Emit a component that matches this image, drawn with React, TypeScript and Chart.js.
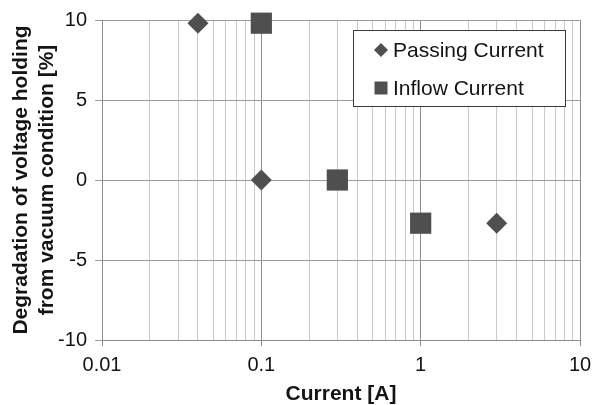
import React, { useEffect, useRef } from "react";
import { Chart, registerables } from "chart.js";

Chart.register(...registerables);

// ---- data ----
const seriesNames = ["Passing Current", "Inflow Current"];
const passingX = [0.04, 0.1, 3];
const passingY = [9.8, 0, -2.7];
const inflowX = [0.1, 0.3, 1];
const inflowY = [9.8, 0, -2.7];

const xDecades = [0.01, 0.1, 1, 10];
const xDecadeLabels = ["0.01", "0.1", "1", "10"];
const xMinorMultipliers = [2, 3, 4, 5, 6, 7, 8, 9];
const yTicks = [-10, -5, 0, 5, 10];
const yTickLabels = ["-10", "-5", "0", "5", "10"];

const xTitle = "Current [A]";
const yTitle = ["Degradation of voltage holding", "from vacuum condition [%]"];

// ---- styles ----
const FONT = "'Liberation Sans', Arial, sans-serif";
const TEXT = "#141414";
const MARK = "#4f4f4f";
const GRID_MAJOR = "#8e8e8e";
const GRID_MINOR = "#c9c9c9";
const GRID_Y = "#9c9c9c";

const xTickValues: number[] = (() => {
  const out: number[] = [];
  for (let i = 0; i < xDecades.length; i++) {
    out.push(xDecades[i]);
    if (i < xDecades.length - 1) {
      for (const m of xMinorMultipliers) out.push(parseFloat((xDecades[i] * m).toPrecision(6)));
    }
  }
  return out;
})();

const decadeIndex = (v: number) => xDecades.findIndex((d) => Math.abs(d - v) / d < 1e-6);

const drawDiamond = (ctx: CanvasRenderingContext2D, x: number, y: number, r: number) => {
  ctx.beginPath();
  ctx.moveTo(x - r, y);
  ctx.lineTo(x, y - r);
  ctx.lineTo(x + r, y);
  ctx.lineTo(x, y + r);
  ctx.closePath();
  ctx.fill();
};

const boxLegend = {
  id: "boxLegend",
  afterDraw(chart: any) {
    const ctx: CanvasRenderingContext2D = chart.ctx;
    const area = chart.chartArea;
    const w = 212;
    const h = 76;
    const x0 = area.right - 227;
    const y0 = area.top + 10;
    ctx.save();
    ctx.fillStyle = "#ffffff";
    ctx.fillRect(x0, y0, w, h);
    ctx.strokeStyle = "#3a3a3a";
    ctx.lineWidth = 1;
    ctx.strokeRect(x0 + 0.5, y0 + 0.5, w, h);
    const rows = [y0 + 20, y0 + 58];
    chart.data.datasets.forEach((ds: any, i: number) => {
      const cy = rows[i];
      const cx = x0 + 28;
      ctx.fillStyle = ds.backgroundColor;
      if (ds.pointStyle === "rectRot") drawDiamond(ctx, cx, cy, 7);
      else ctx.fillRect(cx - 6.5, cy - 6.5, 13, 13);
      ctx.fillStyle = TEXT;
      ctx.font = `21px ${FONT}`;
      ctx.textAlign = "left";
      ctx.textBaseline = "middle";
      ctx.fillText(ds.label, x0 + 40, cy + 1);
    });
    ctx.restore();
  },
};

export default function App() {
  const ref = useRef<HTMLCanvasElement | null>(null);

  useEffect(() => {
    if (!ref.current) return;
    const chart = new Chart(ref.current, {
      type: "scatter",
      data: {
        datasets: [
          {
            label: seriesNames[0],
            data: passingX.map((x, i) => ({ x, y: passingY[i] })),
            pointStyle: "rectRot",
            pointRadius: 10.5,
            backgroundColor: MARK,
            borderColor: MARK,
            borderWidth: 0,
            clip: false,
          },
          {
            label: seriesNames[1],
            data: inflowX.map((x, i) => ({ x, y: inflowY[i] })),
            pointStyle: "rect",
            pointRadius: 15,
            backgroundColor: MARK,
            borderColor: MARK,
            borderWidth: 0,
            clip: false,
          },
        ],
      },
      options: {
        responsive: false,
        animation: false,
        events: [],
        layout: { padding: { top: 20, right: 14, left: 0, bottom: 0 } },
        plugins: { legend: { display: false }, tooltip: { enabled: false } },
        scales: {
          x: {
            type: "logarithmic",
            min: xDecades[0],
            max: xDecades[xDecades.length - 1],
            afterBuildTicks: (scale: any) => {
              scale.ticks = xTickValues.map((v) => ({ value: v }));
            },
            afterFit: (scale: any) => {
              scale.height = 65;
              scale.paddingLeft = 0;
              scale.paddingRight = 0;
            },
            ticks: {
              autoSkip: false,
              maxRotation: 0,
              minRotation: 0,
              padding: 7,
              color: TEXT,
              font: { family: FONT, size: 20 },
              callback: (v: any) => {
                const i = decadeIndex(Number(v));
                return i >= 0 ? xDecadeLabels[i] : "";
              },
            },
            grid: {
              color: (c: any) => (c.tick && decadeIndex(c.tick.value) >= 0 ? GRID_MAJOR : GRID_MINOR),
              tickColor: (c: any) => (c.tick && decadeIndex(c.tick.value) >= 0 ? GRID_MAJOR : "rgba(0,0,0,0)"),
              tickLength: 6,
              lineWidth: 1,
            },
            border: { color: GRID_MAJOR },
            title: {
              display: true,
              text: xTitle,
              color: TEXT,
              font: { family: FONT, size: 21, weight: "bold", lineHeight: 1 },
              padding: { top: 0, bottom: 0 },
            },
          },
          y: {
            min: yTicks[0],
            max: yTicks[yTicks.length - 1],
            afterBuildTicks: (scale: any) => {
              scale.ticks = yTicks.map((v) => ({ value: v }));
            },
            afterFit: (scale: any) => {
              scale.width = 102;
              scale.paddingTop = 0;
              scale.paddingBottom = 0;
            },
            ticks: {
              padding: 8,
              color: TEXT,
              font: { family: FONT, size: 20 },
              callback: (v: any) => {
                const i = yTicks.indexOf(Number(v));
                return i >= 0 ? yTickLabels[i] : "";
              },
            },
            grid: { color: GRID_Y, tickColor: GRID_Y, tickLength: 7, lineWidth: 1 },
            border: { color: GRID_MAJOR },
            title: {
              display: true,
              text: yTitle,
              color: TEXT,
              font: { family: FONT, size: 21, weight: "bold", lineHeight: 1.2 },
              padding: { top: 9, bottom: 0 },
            },
          },
        },
      },
      plugins: [boxLegend],
    } as any);
    return () => chart.destroy();
  }, []);

  return (
    <div style={{ position: "absolute", left: 0, top: 0, width: 595, height: 405, background: "#fff" }}>
      <canvas ref={ref} width={595} height={405} style={{ display: "block" }} />
    </div>
  );
}
